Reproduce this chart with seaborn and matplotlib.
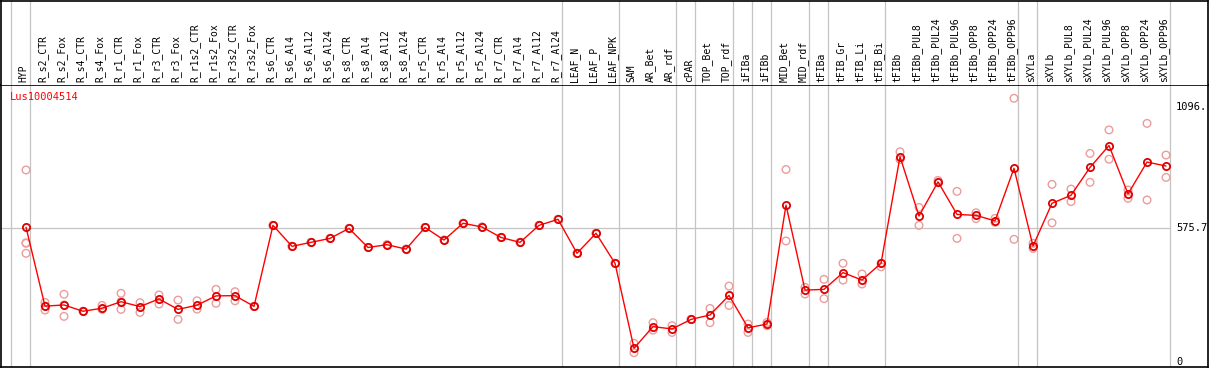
import matplotlib
matplotlib.use("Agg")
import matplotlib.pyplot as plt
import matplotlib.transforms as mtransforms
import pandas as pd
import seaborn as sns

labels = ["HYP", "R_s2_CTR", "R_s2_Fox", "R_s4_CTR", "R_s4_Fox", "R_r1_CTR", "R_r1_Fox",
          "R_r3_CTR", "R_r3_Fox", "R_r1s2_CTR", "R_r1s2_Fox", "R_r3s2_CTR", "R_r3s2_Fox",
          "R_s6_CTR", "R_s6_Al4", "R_s6_Al12", "R_s6_Al24", "R_s8_CTR", "R_s8_Al4",
          "R_s8_Al12", "R_s8_Al24", "R_r5_CTR", "R_r5_Al4", "R_r5_Al12", "R_r5_Al24",
          "R_r7_CTR", "R_r7_Al4", "R_r7_Al12", "R_r7_Al24", "LEAF_N", "LEAF_P", "LEAF_NPK",
          "SAM", "AR_Bet", "AR_rdf", "cPAR", "TOP_Bet", "TOP_rdf", "iFIBa", "iFIBb",
          "MID_Bet", "MID_rdf", "tFIBa", "tFIB_Gr", "tFIB_Li", "tFIB_Bi", "tFIBb",
          "tFIBb_PUL8", "tFIBb_PUL24", "tFIBb_PUL96", "tFIBb_OPP8", "tFIBb_OPP24",
          "tFIBb_OPP96", "sXYLa", "sXYLb", "sXYLb_PUL8", "sXYLb_PUL24", "sXYLb_PUL96",
          "sXYLb_OPP8", "sXYLb_OPP24", "sXYLb_OPP96"]

means = [579, 240, 245, 218, 231, 259, 238, 271, 226, 244, 284, 285, 239,
         587, 497, 514, 531, 574, 492, 504, 485, 578, 524, 596, 580, 535, 514, 587, 613,
         467, 553, 424, 59, 152, 142, 183, 202, 286, 147, 163, 674, 309, 312, 384, 352,
         424, 882, 627, 774, 634, 630, 606, 832, 498, 682, 716, 836, 930, 722, 859, 842]

replicates = [
    [825, 512, 510, 467], [256, 240, 223], [291, 245, 196], [218, 218], [243, 226],
    [295, 259, 226], [255, 213], [288, 249], [266, 183], [263, 227], [312, 252],
    [302, 263], [239, 239], [587, 587], [497, 497], [514, 514], [531, 531], [574, 574],
    [492, 492], [504, 504], [485, 485], [578, 578], [524, 524], [596, 596], [580, 580],
    [535, 535], [514, 514], [587, 587], [613, 613], [467, 467], [553, 553], [424, 424],
    [80, 40], [169, 137], [156, 127], [183, 183], [230, 169], [326, 243], [163, 127],
    [170, 156], [827, 520], [321, 292], [355, 272], [424, 352], [378, 335], [409, 424],
    [903, 870], [664, 587], [780, 770], [733, 531], [641, 616], [617, 600], [1133, 527],
    [488, 510], [763, 598], [743, 689], [896, 772], [997, 871], [739, 703], [1025, 696],
    [889, 793]]

group_ends = [-1, 0, 28, 31, 34, 35, 37, 38, 39, 41, 42, 45, 52, 53, 60]
y_ticks = [1096.1, 575.7, 0]
y_tick_labels = ["1096.", "575.7", "0"]
gene = "Lus10004514"

df_mean = pd.DataFrame({"idx": range(len(labels)), "value": means})
df_rep = pd.DataFrame([(i, v) for i, vals in enumerate(replicates) for v in vals],
                      columns=["idx", "value"])

sns.set_style("white")
plt.rcParams["font.family"] = ["DejaVu Sans Mono"]

W, H = 1209, 370
fig = plt.figure(figsize=(W / 100, H / 100), dpi=100)
ax = fig.add_axes([1 / W, 3 / H, 1207 / W, 282 / H])
hax = fig.add_axes([1 / W, 285 / H, 1207 / W, 84 / H])

xlim = (-1.316, 62.21)
ax.set_xlim(*xlim)
ax.set_ylim(-21.5, 1190)
hax.set_xlim(*xlim)
hax.set_ylim(0, 1)

grey = "#c4c4c4"
for g in group_ends:
    ax.axvline(g + 0.2, color=grey, lw=0.9, zorder=0)
    hax.axvline(g + 0.2, color=grey, lw=0.9, zorder=0)
ax.hlines(575.7, xlim[0], 60.2, color=grey, lw=0.9, zorder=0)

sns.scatterplot(data=df_rep, x="idx", y="value", ax=ax, marker="o", s=30,
                facecolors="none", edgecolor="#ec9c9c", linewidth=1.0, zorder=2)
sns.lineplot(data=df_mean, x="idx", y="value", ax=ax, color="red", lw=1.0,
             marker="o", ms=5.2, mfc="none", mec="#e00000", mew=1.3, zorder=3)

ax.set_xlabel("")
ax.set_ylabel("")
ax.set_xticks([])
ax.set_yticks([])
for s in ["left", "bottom", "right", "top"]:
    ax.spines[s].set_visible(True)
    ax.spines[s].set_color("black")
    ax.spines[s].set_linewidth(1.2)

trans = mtransforms.blended_transform_factory(ax.transAxes, ax.transData)
for t, lab in zip(y_ticks, y_tick_labels):
    ax.text(1177 / W, t, lab, transform=trans, ha="left", va="center",
            fontsize=7.5, color="black")
ax.text(9 / 1207, 1 - 12 / 282, gene, transform=ax.transAxes, ha="left",
        va="center", fontsize=7.5, color="red")

for i, lab in enumerate(labels):
    hax.text(i - 0.12, 0.04, lab, rotation=90, ha="center", va="bottom",
             fontsize=7, color="black")
hax.set_xticks([])
hax.set_yticks([])
for s in ["left", "top", "right"]:
    hax.spines[s].set_visible(True)
    hax.spines[s].set_color("black")
    hax.spines[s].set_linewidth(1.2)
hax.spines["bottom"].set_visible(False)

fig.savefig("out.png", dpi=100)
